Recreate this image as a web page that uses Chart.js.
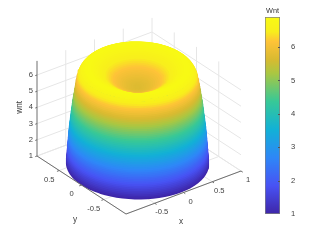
<!DOCTYPE html>
<html>
<head>
<meta charset="utf-8">
<script src="https://cdn.jsdelivr.net/npm/chart.js@4/dist/chart.umd.min.js"></script>
<style>
  html, body { margin: 0; padding: 0; background: #fff; overflow: hidden; }
  canvas { position: absolute; top: 0; }
  #surface { left: 0; }
  #bar { left: 255px; }
</style>
</head>
<body>
<canvas id="surface" width="321" height="241"></canvas>
<canvas id="bar" width="66" height="241"></canvas>
<script>
// values
const xTicks = [-1, -0.5, 0, 0.5, 1];
const yTicks = [-1, -0.5, 0, 0.5, 1];
const zTicks = [1, 2, 3, 4, 5, 6];
const xLabels = ["-0.5", "0", "0.5", "1"];
const xLabelAt = [-0.5, 0, 0.5, 1];
const yLabels = ["-0.5", "0", "0.5"];
const yLabelAt = [-0.5, 0, 0.5];
const zTop = 6.87;
const barTicks = [1, 2, 3, 4, 5, 6];
const barMax = 6.9;

// surface profile, outer foot -> rim -> crater centre
const ringWnt = [
  1.0, 1.1, 1.2, 1.3, 1.4, 1.5, 1.6, 1.7, 1.8, 1.9,
  2.0, 2.1, 2.2, 2.3, 2.4, 2.5, 2.6, 2.7, 2.8, 2.9,
  3.0, 3.1, 3.2, 3.3, 3.4, 3.5, 3.6, 3.7, 3.8, 3.9,
  4.0, 4.1, 4.2, 4.3, 4.4, 4.5, 4.6, 4.7, 4.8, 4.9,
  5.0, 5.1, 5.2, 5.3, 5.4, 5.5, 5.6, 5.7, 5.8, 5.9,
  6.0, 6.1, 6.2, 6.3, 6.4, 6.5, 6.6, 6.7, 6.75, 6.8, 6.83, 6.85, 6.87,
  6.87, 6.86, 6.83, 6.79, 6.75, 6.7, 6.65, 6.6, 6.54, 6.48, 6.41, 6.35, 6.28, 6.22,
  6.16, 6.1, 6.05, 6.0, 5.95, 5.9, 5.86, 5.82, 5.79, 5.76, 5.74, 5.72, 5.71, 5.7
];
const ringRadius = [
  0.965, 0.964, 0.963, 0.961, 0.959, 0.957, 0.955, 0.953, 0.951, 0.95,
  0.948, 0.946, 0.944, 0.942, 0.94, 0.938, 0.936, 0.934, 0.932, 0.93,
  0.928, 0.925, 0.922, 0.92, 0.917, 0.914, 0.911, 0.908, 0.905, 0.902,
  0.899, 0.896, 0.893, 0.89, 0.887, 0.884, 0.881, 0.877, 0.874, 0.87,
  0.866, 0.862, 0.858, 0.854, 0.85, 0.846, 0.842, 0.838, 0.834, 0.83,
  0.825, 0.82, 0.815, 0.81, 0.803, 0.793, 0.778, 0.758, 0.743, 0.728, 0.713, 0.698, 0.683,
  0.665, 0.645, 0.62, 0.595, 0.57, 0.545, 0.52, 0.495, 0.47, 0.445, 0.42, 0.395, 0.37, 0.345,
  0.32, 0.295, 0.27, 0.245, 0.22, 0.195, 0.17, 0.145, 0.12, 0.095, 0.07, 0.045, 0.025, 0.01
];
const ringCenterX = -0.01;
const ringCenterY = 0.02;

// parula
const cmap = [
  [62, 38, 168], [72, 82, 244], [46, 135, 247], [18, 177, 214],
  [55, 200, 151], [170, 199, 66], [217, 186, 48], [254, 195, 56], [248, 238, 28], [248, 250, 20]
];
const cmapAt = [0, 0.143, 0.286, 0.429, 0.571, 0.714, 0.786, 0.875, 0.925, 1];

function colorFor(v) {
  const t = Math.min(1, Math.max(0, (v - 1) / (barMax - 1)));
  let i = 0;
  while (i < cmap.length - 2 && t > cmapAt[i + 1]) i++;
  const f = (t - cmapAt[i]) / (cmapAt[i + 1] - cmapAt[i]);
  const c = cmap[i].map((a, k) => Math.round(a + (cmap[i + 1][k] - a) * f));
  return `rgb(${c[0]},${c[1]},${c[2]})`;
}

// view: data coords -> flat x/y of the hidden scales
function project(x, y, z) {
  return { x: 139 + 57.5 * x - 44.5 * y, y: 163.5 - 21.5 * x - 29 * y - 16.2 * (z - 1) };
}

const GRID = "#e6e6e6";
const AXIS = "#6e6e6e";
const TEXT = "#404040";

function seg(a, b, color) {
  return {
    data: [project(...a), project(...b)],
    borderColor: color,
    borderWidth: 1,
    showLine: true,
    pointRadius: 0,
    order: 1000
  };
}

const datasets = [];
for (const t of xTicks) {
  datasets.push(seg([t, -1, 1], [t, 1, 1], GRID));
  if (t > -1) datasets.push(seg([t, 1, 1], [t, 1, zTop], GRID));
}
for (const t of yTicks) {
  datasets.push(seg([-1, t, 1], [1, t, 1], GRID));
  if (t > -1 && t < 1) datasets.push(seg([1, t, 1], [1, t, zTop], GRID));
}
for (const z of zTicks) {
  datasets.push(seg([-1, 1, z], [1, 1, z], GRID));
  datasets.push(seg([1, 1, z], [1, -1, z], GRID));
}

ringWnt.forEach((z, i) => {
  const pts = [];
  for (let a = 0; a <= 360; a += 5) {
    const rad = a * Math.PI / 180;
    pts.push(project(ringCenterX + ringRadius[i] * Math.cos(rad), ringCenterY + ringRadius[i] * Math.sin(rad), z));
  }
  datasets.push({
    data: pts,
    borderColor: colorFor(z),
    borderWidth: 3,
    borderJoinStyle: "round",
    borderCapStyle: "round",
    showLine: true,
    pointRadius: 0,
    order: ringWnt.length - i + 10
  });
});

// axis lines and tick marks go over the surface
function axisSeg(a, b) {
  const s = seg(a, b, AXIS);
  s.order = 0;
  return s;
}
datasets.push(axisSeg([-1, 1, 1], [-1, 1, zTop]));
datasets.push(axisSeg([-1, 1, 1], [-1, -1, 1]));
datasets.push(axisSeg([-1, -1, 1], [1, -1, 1]));
for (const z of zTicks) datasets.push(axisSeg([-1, 1, z], [-1.03, 1, z]));
for (const t of yLabelAt) datasets.push(axisSeg([-1, t, 1], [-1.04, t, 1]));
for (const t of xLabelAt) datasets.push(axisSeg([t, -1, 1], [t, -1.04, 1]));

const labels3d = {
  id: "labels3d",
  afterDraw(chart) {
    const { ctx, scales } = chart;
    const put = (p, dx, dy, text, rot) => {
      ctx.save();
      ctx.translate(scales.x.getPixelForValue(p.x) + dx, scales.y.getPixelForValue(p.y) + dy);
      if (rot) ctx.rotate(rot);
      ctx.fillText(text, 0, 0);
      ctx.restore();
    };
    ctx.save();
    ctx.fillStyle = TEXT;
    ctx.font = "7.6px 'Liberation Sans'";
    ctx.textBaseline = "middle";
    ctx.textAlign = "right";
    zTicks.forEach(z => put(project(-1, 1, z), -4, 0, String(z)));
    ctx.textAlign = "center";
    xLabelAt.forEach((t, i) => put(project(t, -1, 1), 7, 9, xLabels[i]));
    yLabelAt.forEach((t, i) => put(project(-1, t, 1), -10, 9, yLabels[i]));
    ctx.font = "8.3px 'Liberation Sans'";
    put(project(0, -1, 1), -2.5, 29.5, "x");
    put(project(-1, 0, 1), -6.5, 35, "y");
    put(project(-1, 1, 4), -17, 0, "wnt", -Math.PI / 2);
    ctx.restore();
  }
};

new Chart(document.getElementById("surface"), {
  type: "scatter",
  data: { datasets },
  plugins: [labels3d],
  options: {
    responsive: false,
    animation: false,
    events: [],
    layout: { padding: 0 },
    plugins: { legend: { display: false }, tooltip: { enabled: false } },
    scales: {
      x: { display: false, min: 0, max: 321 },
      y: { display: false, min: 0, max: 241, reverse: true }
    }
  }
});

// colorbar
const barTickMarks = {
  id: "barTickMarks",
  afterDraw(chart) {
    const { ctx, chartArea, scales } = chart;
    ctx.save();
    ctx.strokeStyle = "#555";
    ctx.lineWidth = 1;
    barTicks.slice(1).forEach(v => {
      const py = Math.round(scales.y.getPixelForValue(v)) + 0.5;
      ctx.beginPath();
      ctx.moveTo(chartArea.right - 2, py);
      ctx.lineTo(chartArea.right, py);
      ctx.stroke();
    });
    ctx.restore();
  }
};

new Chart(document.getElementById("bar"), {
  type: "bar",
  data: {
    labels: ["Wnt"],
    datasets: [{
      data: [[1, barMax]],
      barPercentage: 1,
      categoryPercentage: 1,
      borderColor: "#808080",
      borderWidth: 1,
      borderSkipped: false,
      backgroundColor(c) {
        const { ctx, chartArea, scales } = c.chart;
        if (!chartArea) return "#000";
        const g = ctx.createLinearGradient(0, scales.y.getPixelForValue(1), 0, scales.y.getPixelForValue(barMax));
        cmap.forEach((col, i) => g.addColorStop(cmapAt[i], `rgb(${col[0]},${col[1]},${col[2]})`));
        return g;
      }
    }]
  },
  plugins: [barTickMarks],
  options: {
    responsive: false,
    animation: false,
    events: [],
    layout: { padding: { left: 10, right: 0, top: 7, bottom: 27 } },
    plugins: { legend: { display: false }, tooltip: { enabled: false } },
    scales: {
      x: {
        position: "top",
        afterFit(s) { s.height = 10; },
        grid: { display: false },
        border: { display: false },
        ticks: { display: false },
        title: {
          display: true,
          text: "Wnt",
          color: "#333",
          font: { family: "Liberation Sans", size: 7.3 },
          padding: 0
        }
      },
      y: {
        position: "right",
        min: 1,
        max: barMax,
        afterBuildTicks(s) { s.ticks = barTicks.map(value => ({ value })); },
        afterFit(s) { s.width = 41; },
        grid: { display: false },
        border: { display: false },
        ticks: {
          color: TEXT,
          padding: 3,
          font: { family: "Liberation Sans", size: 7.6 }
        }
      }
    }
  }
});
</script>
</body>
</html>
